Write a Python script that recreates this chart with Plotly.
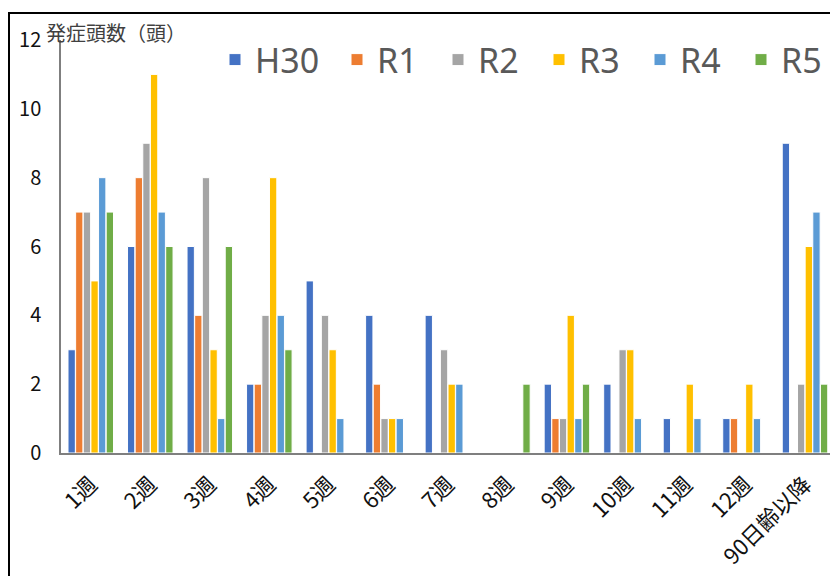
import plotly.graph_objects as go

categories = ["1週", "2週", "3週", "4週", "5週", "6週", "7週", "8週", "9週", "10週", "11週", "12週", "90日齢以降"]
series_names = ["H30", "R1", "R2", "R3", "R4", "R5"]
h30 = [3, 6, 6, 2, 5, 4, 4, 0, 2, 2, 1, 1, 9]
r1 = [7, 8, 4, 2, 0, 2, 0, 0, 1, 0, 0, 1, 0]
r2 = [7, 9, 8, 4, 4, 1, 3, 0, 1, 3, 0, 0, 2]
r3 = [5, 11, 3, 8, 3, 1, 2, 0, 4, 3, 2, 2, 6]
r4 = [8, 7, 1, 4, 1, 1, 2, 0, 1, 1, 1, 1, 7]
r5 = [7, 6, 6, 3, 0, 0, 0, 2, 2, 0, 0, 0, 2]
y_ticks = [0, 2, 4, 6, 8, 10, 12]
colors = ["#4472C4", "#ED7D31", "#A5A5A5", "#FFC000", "#5B9BD5", "#70AD47"]

FONT = "Noto Sans CJK JP"
W, H = 830, 576
L, R, T, B = 61, 0, 40, 123
pw = W - L - R
ph = H - T - B

fig = go.Figure()
for i, (name, vals, c) in enumerate(zip(series_names, [h30, r1, r2, r3, r4, r5], colors)):
    fig.add_trace(go.Bar(name=name, x=categories, y=vals,
                         legend="legend" if i == 0 else "legend2",
                         marker=dict(color=c, line=dict(color="white", width=1))))

def px_x(fx):
    return (fx - L) / pw

def px_y(fy):
    return (H - B - fy) / ph

legend_font = dict(size=34, color="#595959", family="Noto Sans")

fig.update_layout(
    width=W, height=H,
    margin=dict(l=L, r=R, t=T, b=B, autoexpand=False),
    paper_bgcolor="white", plot_bgcolor="white",
    barmode="group", bargap=0.23, bargroupgap=0.04,
    font=dict(family=FONT, color="#000000"),
    showlegend=True,
    legend=dict(orientation="h", x=px_x(215), xanchor="left", y=px_y(60), yanchor="middle",
                font=legend_font, bgcolor="rgba(0,0,0,0)", itemclick=False),
    legend2=dict(orientation="h", x=px_x(337), xanchor="left", y=px_y(60), yanchor="middle",
                 font=legend_font, bgcolor="rgba(0,0,0,0)",
                 entrywidth=56, entrywidthmode="pixels", itemclick=False, tracegroupgap=0),
    xaxis=dict(range=[-0.5, 12.42], showline=True, linecolor="#7f7f7f", linewidth=2, ticks="",
               tickangle=-45, tickfont=dict(size=22, color="#111111", family=FONT),
               ticklabelstandoff=8,
               showgrid=False, zeroline=False, fixedrange=True),
    yaxis=dict(range=[0, 12], tickvals=y_ticks, showline=True, linecolor="#7f7f7f", linewidth=1.5,
               ticks="", tickfont=dict(size=20, color="#111111", family=FONT),
               showgrid=False, zeroline=False, ticklabelstandoff=14, fixedrange=True),
    annotations=[dict(text="発症頭数（頭）", xref="paper", yref="paper", x=px_x(44), y=px_y(32),
                      xanchor="left", yanchor="middle", showarrow=False,
                      font=dict(size=20, color="#404040", family=FONT))],
    shapes=[dict(type="rect", xref="paper", yref="paper",
                 x0=px_x(9), x1=px_x(W + 30),
                 y0=px_y(H + 30), y1=px_y(13),
                 line=dict(color="black", width=2), fillcolor="rgba(0,0,0,0)", layer="below")],
)

fig.write_html(
    "out.html",
    config={"displayModeBar": False},
    post_script="document.body.style.margin='0';"
                "document.body.style.overflow='hidden';"
                "document.documentElement.style.overflow='hidden';",
)
